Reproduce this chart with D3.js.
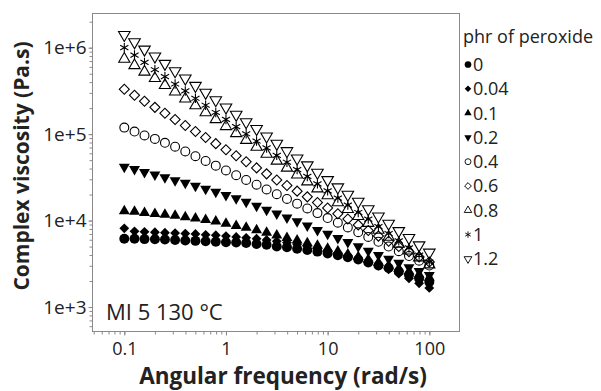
<!DOCTYPE html>
<html>
<head>
<meta charset="utf-8">
<script src="https://cdn.jsdelivr.net/npm/d3@7"></script>
<style>
  body { margin: 0; background: #fff; }
  text { font-family: "Open Sans", sans-serif; fill: #222; }
</style>
</head>
<body>
<div id="chart"></div>
<script>
// angular frequency (rad/s)
const freq = [0.1, 0.126, 0.158, 0.2, 0.251, 0.316, 0.398, 0.501, 0.631, 0.794, 1, 1.26, 1.58, 2, 2.51, 3.16, 3.98, 5.01, 6.31, 7.94, 10, 12.6, 15.8, 20, 25.1, 31.6, 39.8, 50.1, 63.1, 79.4, 100];

// complex viscosity (Pa.s) per phr of peroxide
const phr0 = [6170, 6160, 6100, 6090, 6030, 5960, 5890, 5820, 5750, 5690, 5620, 5560, 5500, 5370, 5250, 5010, 4900, 4730, 4570, 4370, 4170, 3980, 3760, 3550, 3270, 3020, 2820, 2570, 2340, 2140, 1950];
const phr004 = [8130, 7500, 7410, 7330, 7240, 7160, 7080, 7000, 6840, 6760, 6610, 6460, 6310, 6170, 5960, 5750, 5560, 5310, 5070, 4790, 4520, 4220, 3940, 3630, 3310, 3020, 2720, 2430, 2140, 1880, 1660];
const phr01 = [12900, 12700, 12300, 12000, 11700, 11400, 11000, 10600, 10200, 9770, 9230, 8710, 8320, 7760, 7240, 6760, 6310, 5890, 5500, 5130, 4730, 4420, 4070, 3800, 3550, 3270, 3020, 2790, 2570, 2370, 2190];
const phr02 = [41700, 39400, 36300, 33900, 31600, 29200, 27200, 25100, 23200, 21400, 19700, 18000, 16400, 14800, 13300, 12000, 10800, 9770, 8710, 7760, 7000, 6240, 5620, 5010, 4470, 3980, 3590, 3240, 2880, 2600, 2340];
const phr04 = [119000, 107000, 96600, 88100, 79400, 71600, 63100, 55600, 49000, 43200, 38000, 33500, 29500, 26000, 22900, 20200, 17800, 15700, 13800, 12200, 10700, 9440, 8320, 7330, 6460, 5690, 5010, 4420, 3890, 3430, 3020];
const phr06 = [331000, 282000, 240000, 204000, 174000, 148000, 126000, 107000, 91200, 77600, 66100, 56200, 47900, 40700, 34700, 29500, 25400, 21900, 18800, 16200, 14000, 12000, 10400, 8910, 7670, 6610, 5750, 5010, 4370, 3800, 3310];
const phr08 = [741000, 624000, 525000, 442000, 367000, 309000, 257000, 214000, 178000, 148000, 123000, 102000, 85100, 70800, 58900, 49000, 40700, 33900, 28200, 23400, 19500, 16200, 13500, 11200, 9330, 7760, 6460, 5370, 4470, 3720, 3090];
const phr1 = [1000000, 822000, 676000, 556000, 462000, 380000, 316000, 260000, 216000, 178000, 148000, 122000, 101000, 83200, 69200, 56900, 47300, 38900, 32400, 26600, 22100, 18200, 15100, 12400, 10400, 8510, 7080, 5820, 4840, 3980, 3310];
const phr12 = [1410000, 1160000, 955000, 794000, 653000, 537000, 442000, 363000, 302000, 248000, 204000, 168000, 138000, 115000, 94400, 77600, 63800, 52500, 43700, 35900, 29500, 24300, 20000, 16600, 13600, 11200, 9230, 7590, 6310, 5190, 4270];

const seriesNames = ['0', '0.04', '0.1', '0.2', '0.4', '0.6', '0.8', '1', '1.2'];
const seriesValues = [phr0, phr004, phr01, phr02, phr04, phr06, phr08, phr1, phr12];

const xTickValues = [0.1, 1, 10, 100];
const xTickLabels = ['0.1', '1', '10', '100'];
const yTickValues = [1e3, 1e4, 1e5, 1e6];
const yTickLabels = ['1e+3', '1e+4', '1e+5', '1e+6'];

// marker styles, in series order
const markers = [
  { type: d3.symbolCircle, size: 78, rot: 0, filled: true },
  { type: d3.symbolSquare, size: 48, rot: 45, filled: true },
  { type: d3.symbolTriangle, size: 52, rot: 0, filled: true },
  { type: d3.symbolTriangle, size: 52, rot: 180, filled: true },
  { type: d3.symbolCircle, size: 62, rot: 0, filled: false },
  { type: d3.symbolSquare, size: 50, rot: 45, filled: false },
  { type: d3.symbolTriangle, size: 54, rot: 0, filled: false },
  { type: d3.symbolAsterisk, size: 62, rot: 0, filled: false },
  { type: d3.symbolTriangle, size: 58, rot: 180, filled: false }
];

const width = 601;
const height = 391;
const frame = { left: 92.5, right: 459.5, top: 13.5, bottom: 331.5 };

const svg = d3.select('#chart').append('svg').attr('width', width).attr('height', height);

const x = d3.scaleLog().domain([0.1, 100]).range([124.3, 429.3]);
const y = d3.scaleLog().domain([1e3, 1e6]).range([307, 47.7]);

// minor tick positions inside the frame
const xMinor = [];
[0.01, 0.1, 1, 10, 100].forEach((d) => d3.range(1, 10).forEach((m) => {
  const v = d * m;
  if (x(v) >= frame.left && x(v) <= frame.right) xMinor.push(v);
}));
const yMinor = [];
[100, 1e3, 1e4, 1e5, 1e6].forEach((d) => d3.range(1, 10).forEach((m) => {
  const v = d * m;
  if (y(v) >= frame.top && y(v) <= frame.bottom) yMinor.push(v);
}));

const tickColor = '#8a8a8a';

const xMinorAxis = svg.append('g')
  .attr('transform', `translate(0,${frame.bottom})`)
  .call(d3.axisBottom(x).tickValues(xMinor).tickSize(3).tickFormat(''));
const xAxis = svg.append('g')
  .attr('transform', `translate(0,${frame.bottom})`)
  .call(d3.axisBottom(x).tickValues(xTickValues).tickSize(4).tickPadding(7)
    .tickFormat((d, i) => xTickLabels[i]));
const yMinorAxis = svg.append('g')
  .attr('transform', `translate(${frame.left},0)`)
  .call(d3.axisLeft(y).tickValues(yMinor).tickSize(3).tickFormat(''));
const yAxis = svg.append('g')
  .attr('transform', `translate(${frame.left},0)`)
  .call(d3.axisLeft(y).tickValues(yTickValues).tickSize(4).tickPadding(2)
    .tickFormat((d, i) => yTickLabels[i]));

[xMinorAxis, xAxis, yMinorAxis, yAxis].forEach((g) => {
  g.select('.domain').remove();
  g.selectAll('line').attr('stroke', tickColor);
});
xAxis.selectAll('text').attr('font-size', 18).attr('fill', '#222');
yAxis.selectAll('text').attr('font-size', 19).attr('fill', '#222');

// frame
svg.append('rect')
  .attr('x', frame.left)
  .attr('y', frame.top)
  .attr('width', frame.right - frame.left)
  .attr('height', frame.bottom - frame.top)
  .attr('fill', 'none')
  .attr('stroke', tickColor)
  .attr('stroke-width', 1);

// data points
const plot = svg.append('g');
seriesValues.forEach((vals, s) => {
  const mk = markers[s];
  plot.append('g')
    .selectAll('path')
    .data(freq.map((f, i) => [f, vals[i]]))
    .join('path')
    .attr('d', d3.symbol(mk.type, mk.size))
    .attr('transform', (d) => `translate(${x(d[0])},${y(d[1])}) rotate(${mk.rot})`)
    .attr('fill', mk.filled ? '#000' : 'none')
    .attr('stroke', mk.filled ? 'none' : '#000')
    .attr('stroke-width', 1.1);
});

// annotation
svg.append('text')
  .attr('x', 106)
  .attr('y', 319.5)
  .attr('font-size', 22)
  .text('MI 5 130 °C');

// axis titles
svg.append('text')
  .attr('x', 283)
  .attr('y', 384)
  .attr('text-anchor', 'middle')
  .attr('font-size', 22.5)
  .attr('font-weight', 'bold')
  .text('Angular frequency (rad/s)');

svg.append('text')
  .attr('transform', 'translate(28.5,166) rotate(-90)')
  .attr('text-anchor', 'middle')
  .attr('font-size', 21)
  .attr('font-weight', 'bold')
  .text('Complex viscosity (Pa.s)');

// legend
const legend = svg.append('g');
legend.append('text')
  .attr('x', 463)
  .attr('y', 42.5)
  .attr('font-size', 18)
  .text('phr of peroxide');

const item = legend.selectAll('g.item')
  .data(seriesNames)
  .join('g')
  .attr('class', 'item')
  .attr('transform', (d, i) => `translate(468,${64.5 + i * 24.3})`);

item.append('path')
  .attr('d', (d, i) => d3.symbol(markers[i].type, markers[i].size * 0.45)())
  .attr('transform', (d, i) => `rotate(${markers[i].rot})`)
  .attr('fill', (d, i) => (markers[i].filled ? '#000' : 'none'))
  .attr('stroke', (d, i) => (markers[i].filled ? 'none' : '#000'))
  .attr('stroke-width', 0.9);

item.append('text')
  .attr('x', 5)
  .attr('dy', '0.36em')
  .attr('font-size', 18)
  .text((d) => d);
</script>
</body>
</html>
